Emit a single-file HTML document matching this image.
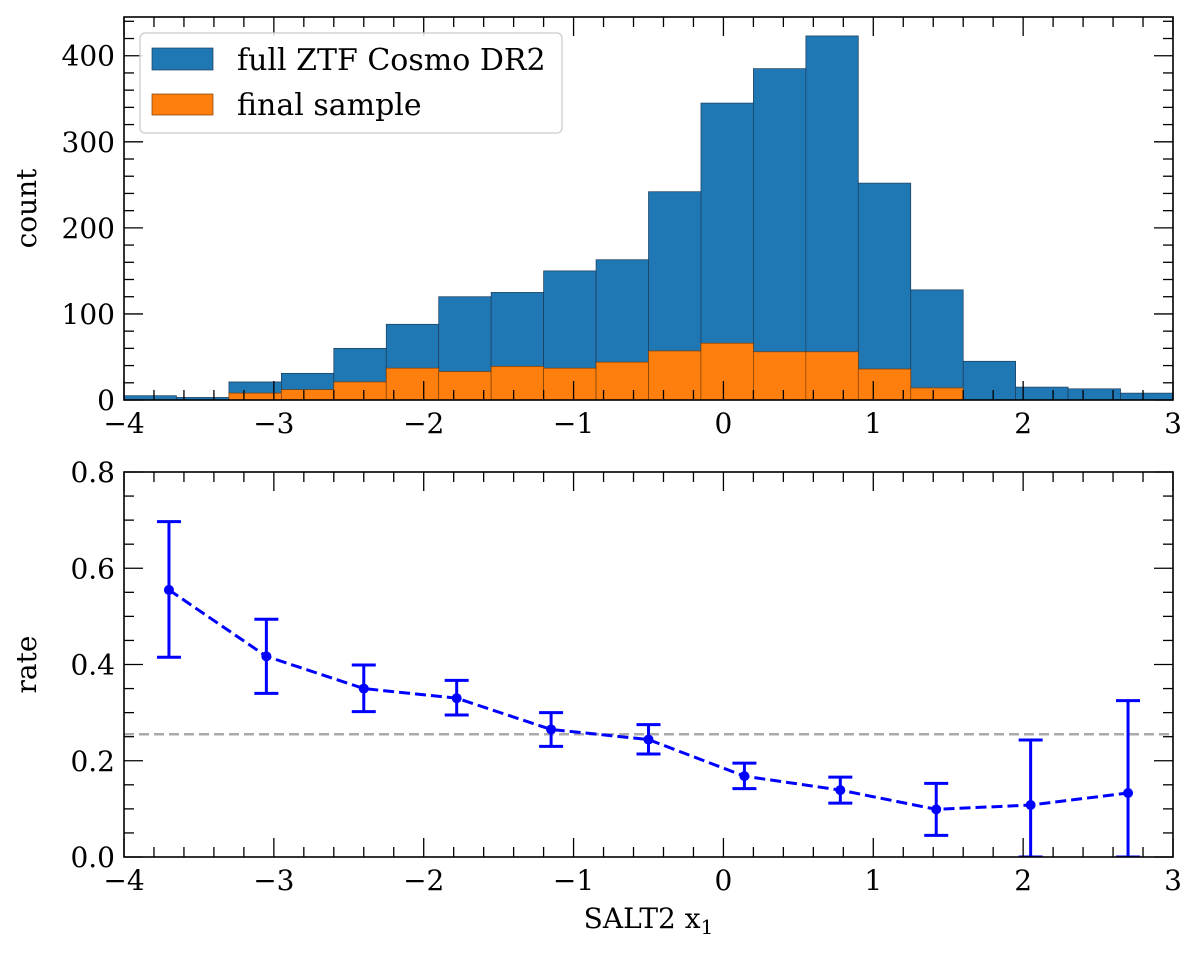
<!DOCTYPE html>
<html><head><meta charset="utf-8"><style>
body{margin:0;background:#fff}
svg{display:block}
text{font-family:"DejaVu Serif","Liberation Serif",serif;fill:#000}
</style></head><body>
<svg id="chart" width="1200" height="956" viewBox="0 0 1200 956" xmlns="http://www.w3.org/2000/svg">
<g id="topPanel"></g>
<g id="botPanel"></g>
</svg>
<script>
const binStart = -4, binWidth = 0.35;
const fullCounts = [5,3,21,31,60,88,120,125,150,163,242,345,385,423,252,128,45,15,13,8];
const finalCounts = [0,0,8,12,21,37,33,39,37,44,57,66,56,56,36,14,0,0,0,0];
const rateX = [-3.7,-3.05,-2.4,-1.78,-1.15,-0.5,0.14,0.78,1.42,2.05,2.7];
const rateY = [0.555,0.417,0.35,0.33,0.265,0.244,0.168,0.139,0.099,0.108,0.133];
const rateLo = [0.415,0.34,0.302,0.295,0.23,0.214,0.142,0.112,0.045,0.0,0.0];
const rateHi = [0.697,0.494,0.399,0.367,0.3,0.275,0.195,0.166,0.153,0.243,0.325];
const refRate = [0.255];
const xTicks = [-4,-3,-2,-1,0,1,2,3];
const countTicks = [0,100,200,300,400];
const rateTicks = [0.0,0.2,0.4,0.6,0.8];

const NS="http://www.w3.org/2000/svg";
const L=124,R=1173;
const sx=v=>L+(v+4)*(R-L)/7;
const T1=17,B1=400, syc=v=>B1-v*(B1-T1)/445;
const T2=472,B2=857, syr=v=>B2-v*(B2-T2)/0.8;
function mk(p,tag,a,txt){const e=document.createElementNS(NS,tag);for(const k in a)e.setAttribute(k,a[k]);if(txt!==undefined)e.textContent=txt;p.appendChild(e);return e;}
const topG=document.getElementById('topPanel'), botG=document.getElementById('botPanel');

fullCounts.forEach((c,i)=>{
  const x0=sx(binStart+i*binWidth), x1=sx(binStart+(i+1)*binWidth);
  const r=mk(topG,'rect',{x:x0,y:syc(c),width:x1-x0,height:B1-syc(c),fill:'#1f77b4',stroke:'#1c3d5a','stroke-width':0.7});
  
  
});
finalCounts.forEach((c,i)=>{
  if(c<=0)return;
  const x0=sx(binStart+i*binWidth), x1=sx(binStart+(i+1)*binWidth);
  const r=mk(topG,'rect',{x:x0,y:syc(c),width:x1-x0,height:B1-syc(c),fill:'#ff7f0e',stroke:'#7a3d05','stroke-width':0.7});
  
  
});

function axes(g,T,B,sy,yt,yminStep,ymax,fmt,ylabel){
  mk(g,'rect',{x:L,y:T,width:R-L,height:B-T,fill:'none',stroke:'#000','stroke-width':1.6});
  for(let k=0;k<=35;k++){
    const v=-4+k*0.2;
    const x=sx(v), maj=(k%5===0), len=maj?19:10;
    mk(g,'line',{x1:x,y1:B,x2:x,y2:B-len,stroke:'#000','stroke-width':1.3});
    mk(g,'line',{x1:x,y1:T,x2:x,y2:T+len,stroke:'#000','stroke-width':1.3});
  }
  const n=Math.floor(ymax/yminStep+1e-6);
  for(let k=0;k<=n;k++){
    const v=k*yminStep;
    const y=sy(v), maj=yt.some(t=>Math.abs(t-v)<1e-6), len=maj?19:10;
    mk(g,'line',{x1:L,y1:y,x2:L+len,y2:y,stroke:'#000','stroke-width':1.3});
    mk(g,'line',{x1:R,y1:y,x2:R-len,y2:y,stroke:'#000','stroke-width':1.3});
  }
  xTicks.forEach(t=>{const e=mk(g,'text',{x:sx(t),y:B+33,'font-size':28,'text-anchor':'middle'},(t<0?'\u2212':'')+Math.abs(t));
    });
  yt.forEach(t=>{const e=mk(g,'text',{x:L-9,y:sy(t)+10,'font-size':28,'text-anchor':'end'},fmt(t));
    });
  const yl=mk(g,'text',{x:36,y:(T+B)/2,'font-size':28,'text-anchor':'middle',transform:`rotate(-90 36 ${(T+B)/2})`},ylabel);
  
}
axes(topG,T1,B1,syc,countTicks,20,445,t=>String(t),'count');

const lg=mk(topG,'g',{});

mk(lg,'rect',{x:140,y:33,width:422,height:100,rx:5,fill:'#fff','fill-opacity':0.85,stroke:'#ccc','stroke-width':1.3});
mk(lg,'rect',{x:152,y:48,width:61,height:22,fill:'#1f77b4',stroke:'#1c3d5a','stroke-width':0.7});
mk(lg,'rect',{x:152,y:94,width:61,height:21,fill:'#ff7f0e',stroke:'#7a3d05','stroke-width':0.7});
mk(lg,'text',{x:237,y:70,'font-size':30},'full ZTF Cosmo DR2');
mk(lg,'text',{x:237,y:115,'font-size':30},'final sample');

const cp=mk(botG,'clipPath',{id:'cb'});mk(cp,'rect',{x:L,y:T2,width:R-L,height:B2-T2});
const ref=mk(botG,'line',{x1:L,x2:R,y1:syr(refRate[0]),y2:syr(refRate[0]),stroke:'#aaa','stroke-width':2.5,'stroke-dasharray':'10,5'});

const eg=mk(botG,'g',{'clip-path':'url(#cb)'});
const pts=rateX.map((x,i)=>sx(x)+','+syr(rateY[i])).join(' ');
const pl=mk(eg,'polyline',{points:pts,fill:'none',stroke:'#0000ff','stroke-width':3,'stroke-dasharray':'11,5'});

rateX.forEach((x,i)=>{
  const X=sx(x);
  const g=mk(eg,'g',{});
  
  mk(g,'line',{x1:X,x2:X,y1:syr(rateLo[i]),y2:syr(rateHi[i]),stroke:'#0000ff','stroke-width':3});
  mk(g,'line',{x1:X-12,x2:X+12,y1:syr(rateLo[i]),y2:syr(rateLo[i]),stroke:'#0000ff','stroke-width':3});
  mk(g,'line',{x1:X-12,x2:X+12,y1:syr(rateHi[i]),y2:syr(rateHi[i]),stroke:'#0000ff','stroke-width':3});
  mk(g,'circle',{cx:X,cy:syr(rateY[i]),r:5,fill:'#0000ff'});
});
axes(botG,T2,B2,syr,rateTicks,0.05,0.8,t=>t.toFixed(1),'rate');
const xl=mk(botG,'text',{x:(L+R)/2,y:928,'font-size':28,'text-anchor':'middle'});

xl.appendChild(document.createTextNode('SALT2 x'));
mk(xl,'tspan',{'font-size':20,dy:6},'1');
</script>
</body></html>
